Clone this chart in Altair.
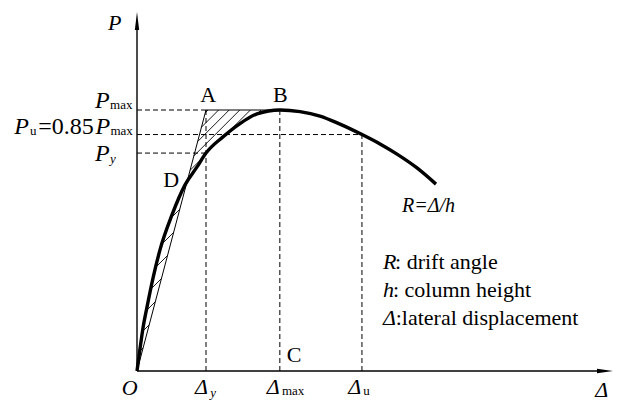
import altair as alt
import pandas as pd
import numpy as np

# ---- chart values ----
curve_delta = [0, 0.43, 0.87, 1.45, 2.32, 3.33, 5.07, 6.96, 8.70, 10.0, 12.46, 14.93,
               17.39, 20.72, 23.62, 26.52, 29.42, 32.61, 35.22, 37.68, 40.58, 43.33]
curve_load = [0, 8.4, 16.5, 24.5, 35.6, 46.4, 59.8, 71.3, 78.2, 83.5, 89.7, 94.8,
              98.5, 100.0, 99.4, 97.7, 94.6, 90.6, 87.0, 83.1, 77.8, 71.6]

delta_y = 10.0
delta_max = 20.7
delta_u = 32.6
p_max = 100.0
p_u = 90.6
p_y = 83.5

# ---- layout ----
W, H = 605, 395
X0, Y0 = 129, 363           # chart pixel of the origin
SX, SY = 6.9, 2.61          # pixels per unit
xdom = [-X0 / SX, (W - X0) / SX]
ydom = [-(H - Y0) / SY, Y0 / SY]
xs = alt.Scale(domain=xdom, nice=False, zero=False)
ys = alt.Scale(domain=ydom, nice=False, zero=False)
FONT = "Liberation Serif"

def X(f="x"):
    return alt.X(f"{f}:Q", scale=xs, axis=None)

def Y(f="y"):
    return alt.Y(f"{f}:Q", scale=ys, axis=None)

# ---- hatching of the region between the secant/plateau and the curve ----
poly = [(0.0, 0.0), (delta_y, p_max), (delta_max, p_max)]
poly += [(d, p) for d, p in reversed(list(zip(curve_delta, curve_load))) if d <= delta_max + 0.05]
poly_px = [(d * SX, p * SY) for d, p in poly]

def hatch(polygon, cs):
    segs = []
    n = len(polygon)
    for c in cs:
        pts = []
        for i in range(n):
            (x1, y1), (x2, y2) = polygon[i], polygon[(i + 1) % n]
            f1, f2 = y1 - x1 - c, y2 - x2 - c
            if (f1 > 0) != (f2 > 0):
                t = f1 / (f1 - f2)
                pts.append((x1 + t * (x2 - x1), y1 + t * (y2 - y1)))
        pts.sort()
        for j in range(0, len(pts) - 1, 2):
            segs.append((pts[j], pts[j + 1]))
    return segs

# intersection D of the secant with the curve (pixel Y)
yD = None
for i in range(len(curve_delta) - 1):
    f1 = curve_load[i] - p_max / delta_y * curve_delta[i]
    f2 = curve_load[i + 1] - p_max / delta_y * curve_delta[i + 1]
    if i > 0 and f1 > 0 and f2 <= 0:
        t = f1 / (f1 - f2)
        yD = (curve_load[i] + t * (curve_load[i + 1] - curve_load[i])) * SY
        break

rows = []
for (a, b) in hatch(poly_px, np.arange(190, 20, -10.6)):
    if (a[1] + b[1]) / 2 > yD:
        rows.append(dict(x=a[0] / SX, y=a[1] / SY, x2=b[0] / SX, y2=b[1] / SY))
for (a, b) in hatch(poly_px, np.arange(170, -20, -17)):
    if (a[1] + b[1]) / 2 < yD:
        rows.append(dict(x=a[0] / SX, y=a[1] / SY, x2=b[0] / SX, y2=b[1] / SY))
hatch_df = pd.DataFrame(rows)

hatch_layer = alt.Chart(hatch_df).mark_rule(color="black", strokeWidth=0.9).encode(
    x=X(), y=Y(), x2="x2:Q", y2="y2:Q")

# ---- dashed guide lines ----
dash_df = pd.DataFrame([
    dict(x=0, y=p_max, x2=delta_y, y2=p_max),
    dict(x=0, y=p_u, x2=delta_u, y2=p_u),
    dict(x=0, y=p_y, x2=delta_y, y2=p_y),
    dict(x=delta_y, y=0, x2=delta_y, y2=p_max),
    dict(x=delta_max, y=0, x2=delta_max, y2=p_max),
    dict(x=delta_u, y=0, x2=delta_u, y2=p_u),
])
dash_layer = alt.Chart(dash_df).mark_rule(color="black", strokeWidth=1, strokeDash=[5, 3]).encode(
    x=X(), y=Y(), x2="x2:Q", y2="y2:Q")

# ---- secant O-A and plateau A-B ----
sec_df = pd.DataFrame(dict(x=[0, delta_y, delta_max], y=[0, p_max, p_max], o=[0, 1, 2]))
sec_layer = alt.Chart(sec_df).mark_line(color="black", strokeWidth=1).encode(
    x=X(), y=Y(), order="o:Q")

# ---- skeleton curve ----
curve_df = pd.DataFrame(dict(x=curve_delta, y=curve_load, o=range(len(curve_delta))))
curve_layer = alt.Chart(curve_df).mark_line(color="black", strokeWidth=3.4,
                                            interpolate="monotone").encode(
    x=X(), y=Y(), order="o:Q")

# ---- axes with arrows ----
axis_df = pd.DataFrame([dict(x=0, y=0, x2=67.2, y2=0), dict(x=0, y=0, x2=0, y2=132.0)])
axis_layer = alt.Chart(axis_df).mark_rule(color="black", strokeWidth=1.4).encode(
    x=X(), y=Y(), x2="x2:Q", y2="y2:Q")
arrow_x = alt.Chart(pd.DataFrame(dict(x=[67.83], y=[0]))).mark_point(
    shape="M-1,-0.28L1,0L-1,0.28Z", size=256, filled=True, color="black", opacity=1).encode(x=X(), y=Y())
arrow_y = alt.Chart(pd.DataFrame(dict(x=[0], y=[134.1]))).mark_point(
    shape="M-0.24,1L0,-1L0.24,1Z", size=324, filled=True, color="black", opacity=1).encode(x=X(), y=Y())

# ---- text annotations: (text, x, y, size, italic) ----
notes = [
    ("P", -4.2, 130.8, 22, True),
    ("Δ", 66.4, -10.0, 22, True),
    ("O", -2.2, -9.2, 22, True),
    ("Δ", 8.4, -8.8, 22, True), ("y", 10.6, -10.0, 13, True),
    ("Δ", 18.8, -8.8, 22, True), ("max", 21.0, -9.2, 13, False),
    ("Δ", 30.6, -8.8, 22, True), ("u", 32.8, -9.2, 13, False),
    ("A", 9.15, 103.1, 22, False),
    ("B", 19.7, 103.1, 22, False),
    ("C", 21.7, 3.4, 22, False),
    ("D", 3.8, 70.5, 22, False),
    ("P", -6.1, 100.8, 24, True), ("max", -3.9, 100.4, 13, False),
    ("P", -17.8, 90.8, 24, True), ("u", -15.5, 90.4, 13, False),
    ("=0.85", -14.3, 90.8, 24, False),
    ("P", -6.0, 90.8, 24, True), ("max", -3.85, 90.4, 13, False),
    ("P", -6.1, 80.5, 24, True), ("y", -3.9, 79.7, 13, True),
    ("R=Δ/h", 38.4, 60.9, 20, True),
    ("R", 35.65, 39.1, 22, True), (": drift angle", 37.4, 39.1, 22, False),
    ("h", 35.65, 28.35, 22, True), (": column height", 37.1, 28.35, 22, False),
    ("Δ", 35.65, 17.6, 22, True), (":lateral displacement", 37.5, 17.6, 22, False),
]
notes_df = pd.DataFrame(notes, columns=["text", "x", "y", "size", "italic"])

def text_layer(italic):
    df = notes_df[notes_df["italic"] == italic].drop(columns="italic")
    return alt.Chart(df).mark_text(font=FONT, fontStyle="italic" if italic else "normal",
                                   align="left", baseline="alphabetic", color="black").encode(
        x=X(), y=Y(), text="text:N", size=alt.Size("size:Q", scale=None, legend=None))

chart = alt.layer(
    hatch_layer, dash_layer, sec_layer, axis_layer, arrow_x, arrow_y, curve_layer,
    text_layer(True), text_layer(False)
).properties(
    width=W, height=H, padding=0, autosize=alt.AutoSizeParams(type="none"),
    background="white"
).configure_view(stroke=None)

chart.save("out.html", embed_options={"renderer": "svg", "actions": False})
